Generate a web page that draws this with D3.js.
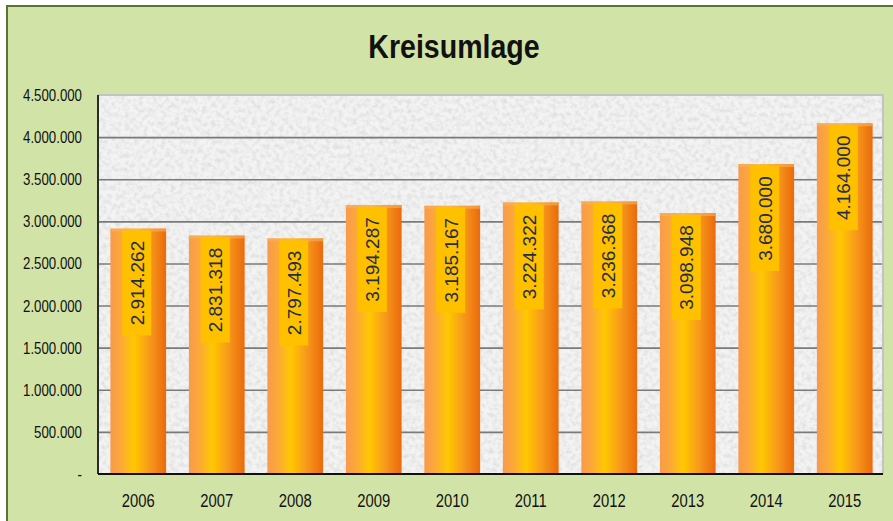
<!DOCTYPE html>
<html>
<head>
<meta charset="utf-8">
<script src="https://cdn.jsdelivr.net/npm/d3@7"></script>
<style>
	body { margin: 0; background: #fff; }
	#graphic { width: 893px; height: 521px; }
	text { font-family: "Liberation Sans", Arial, sans-serif; }
</style>
</head>
<body>
<div id="graphic"></div>
<script>
// data
const years = ['2006', '2007', '2008', '2009', '2010', '2011', '2012', '2013', '2014', '2015'];
const values = [2914262, 2831318, 2797493, 3194287, 3185167, 3224322, 3236368, 3098948, 3680000, 4164000];
const yTicks = [0, 500000, 1000000, 1500000, 2000000, 2500000, 3000000, 3500000, 4000000, 4500000];
const chartTitle = 'Kreisumlage';

const width = 893, height = 521;
const margin = { top: 95, right: 10, bottom: 47, left: 98 };
const chart_width = width - margin.left - margin.right;
const chart_height = height - margin.top - margin.bottom;

// german number format: 1.234.567
const de = d3.formatLocale({ decimal: ',', thousands: '.', grouping: [3], currency: ['', ' €'] });
const fmt = de.format(',d');

let svg = d3.select('#graphic')
	.append('svg')
	.attr('width', width)
	.attr('height', height);

let defs = svg.append('defs');

// horizontal gradient for the cylinder look
let grad = defs.append('linearGradient').attr('id', 'barGrad')
	.attr('x1', '0%').attr('x2', '100%').attr('y1', '0%').attr('y2', '0%');
grad.append('stop').attr('offset', '0%').attr('stop-color', '#f99a4c');
grad.append('stop').attr('offset', '18%').attr('stop-color', '#fba83a');
grad.append('stop').attr('offset', '42%').attr('stop-color', '#ffc800');
grad.append('stop').attr('offset', '70%').attr('stop-color', '#f79a1c');
grad.append('stop').attr('offset', '100%').attr('stop-color', '#ea6a0c');

// marble-ish grey texture for the plot area
let marble = defs.append('filter').attr('id', 'marble')
	.attr('x', 0).attr('y', 0).attr('width', '100%').attr('height', '100%');
marble.append('feTurbulence').attr('type', 'fractalNoise')
	.attr('baseFrequency', '0.22').attr('numOctaves', 4).attr('seed', 7).attr('result', 'noise');
marble.append('feColorMatrix').attr('type', 'matrix')
	.attr('values', '0 0 0 0 0.74  0 0 0 0 0.74  0 0 0 0 0.74  -2.2 0 0 0 1.35');

// outer frame
svg.append('rect')
	.attr('x', 7).attr('y', 6)
	.attr('width', width + 20).attr('height', height + 20)
	.attr('fill', '#d2e3a7')
	.attr('stroke', '#5b7530')
	.attr('stroke-width', 2);

svg.append('text')
	.attr('transform', 'translate(454,58) scale(0.84,1)')
	.attr('text-anchor', 'middle')
	.attr('font-size', 34)
	.attr('font-weight', 'bold')
	.attr('fill', '#111')
	.text(chartTitle);

let g = svg.append('g')
	.attr('transform', 'translate(' + margin.left + ',' + margin.top + ')');

//set up scales
const x = d3.scaleBand()
	.domain(years)
	.range([0, chart_width])
	.paddingInner(0.29)
	.paddingOuter(0.145);

const y = d3.scaleLinear()
	.domain([0, 4500000])
	.range([chart_height, 0]);

// plot background
g.append('rect')
	.attr('width', chart_width).attr('height', chart_height)
	.attr('fill', '#f3f3f3');
g.append('rect')
	.attr('width', chart_width).attr('height', chart_height)
	.attr('filter', 'url(#marble)');

// gridlines + labels
let yAxis = d3.axisLeft(y)
	.tickValues(yTicks)
	.tickSize(-chart_width)
	.tickPadding(0)
	.tickFormat((d) => (d === 0 ? '-' : fmt(d)));

let ya = g.append('g').attr('class', 'y axis').call(yAxis);
ya.select('.domain').remove();
ya.selectAll('line')
	.attr('stroke', '#7a7a7a')
	.attr('stroke-width', 1.6)
	.attr('opacity', (d) => (d === 0 || d === 4500000 ? 0 : 1));
ya.selectAll('text')
	.attr('x', null)
	.attr('transform', 'translate(-16,0) scale(0.78,1)')
	.attr('font-size', 17)
	.attr('fill', '#111');

// plot border: light top/right, dark left/bottom
g.append('path')
	.attr('d', 'M0,0H' + chart_width + 'V' + chart_height)
	.attr('fill', 'none').attr('stroke', '#c3c3c3').attr('stroke-width', 2);

// bars
g.selectAll('rect.bar')
	.data(years)
	.join('rect')
	.attr('class', 'bar')
	.attr('x', (d) => x(d) + 1)
	.attr('y', (d, i) => y(values[i]))
	.attr('width', x.bandwidth())
	.attr('height', (d, i) => chart_height - y(values[i]))
	.attr('fill', 'url(#barGrad)');

// light rim on bar tops
g.selectAll('rect.cap')
	.data(years)
	.join('rect')
	.attr('class', 'cap')
	.attr('x', (d) => x(d) + 1)
	.attr('y', (d, i) => y(values[i]))
	.attr('width', x.bandwidth())
	.attr('height', 3)
	.attr('fill', '#fbb15a')
	.attr('opacity', 0.6);

// data labels on yellow boxes
const boxW = 29, boxH = 105;
let labels = g.selectAll('g.lab')
	.data(years)
	.join('g')
	.attr('class', 'lab')
	.attr('transform', (d, i) =>
		'translate(' + (x(d) + 1 + x.bandwidth() / 2 - 1.5) + ',' + (y(values[i]) + 2) + ')');

labels.append('rect')
	.attr('x', -boxW / 2).attr('y', 0)
	.attr('width', boxW).attr('height', boxH)
	.attr('fill', '#ffc000');

labels.append('text')
	.attr('transform', 'translate(7,' + boxH / 2 + ') rotate(-90)')
	.attr('text-anchor', 'middle')
	.attr('font-size', 19)
	.attr('fill', '#1f2f4a')
	.text((d, i) => fmt(values[i]));

g.append('line')
	.attr('x1', 0).attr('x2', 0).attr('y1', 0).attr('y2', chart_height)
	.attr('stroke', '#2b2b2b').attr('stroke-width', 2);
g.append('line')
	.attr('x1', 0).attr('x2', chart_width).attr('y1', chart_height).attr('y2', chart_height)
	.attr('stroke', '#111').attr('stroke-width', 2);

// x axis labels
let xAxis = d3.axisBottom(x).tickSize(0).tickPadding(0);
let xa = g.append('g')
	.attr('transform', 'translate(1,' + chart_height + ')')
	.call(xAxis);
xa.select('.domain').remove();
xa.selectAll('text')
	.attr('y', null).attr('dy', null)
	.attr('transform', 'translate(0,33) scale(0.78,1)')
	.attr('font-size', 19)
	.attr('fill', '#111');
</script>
</body>
</html>
